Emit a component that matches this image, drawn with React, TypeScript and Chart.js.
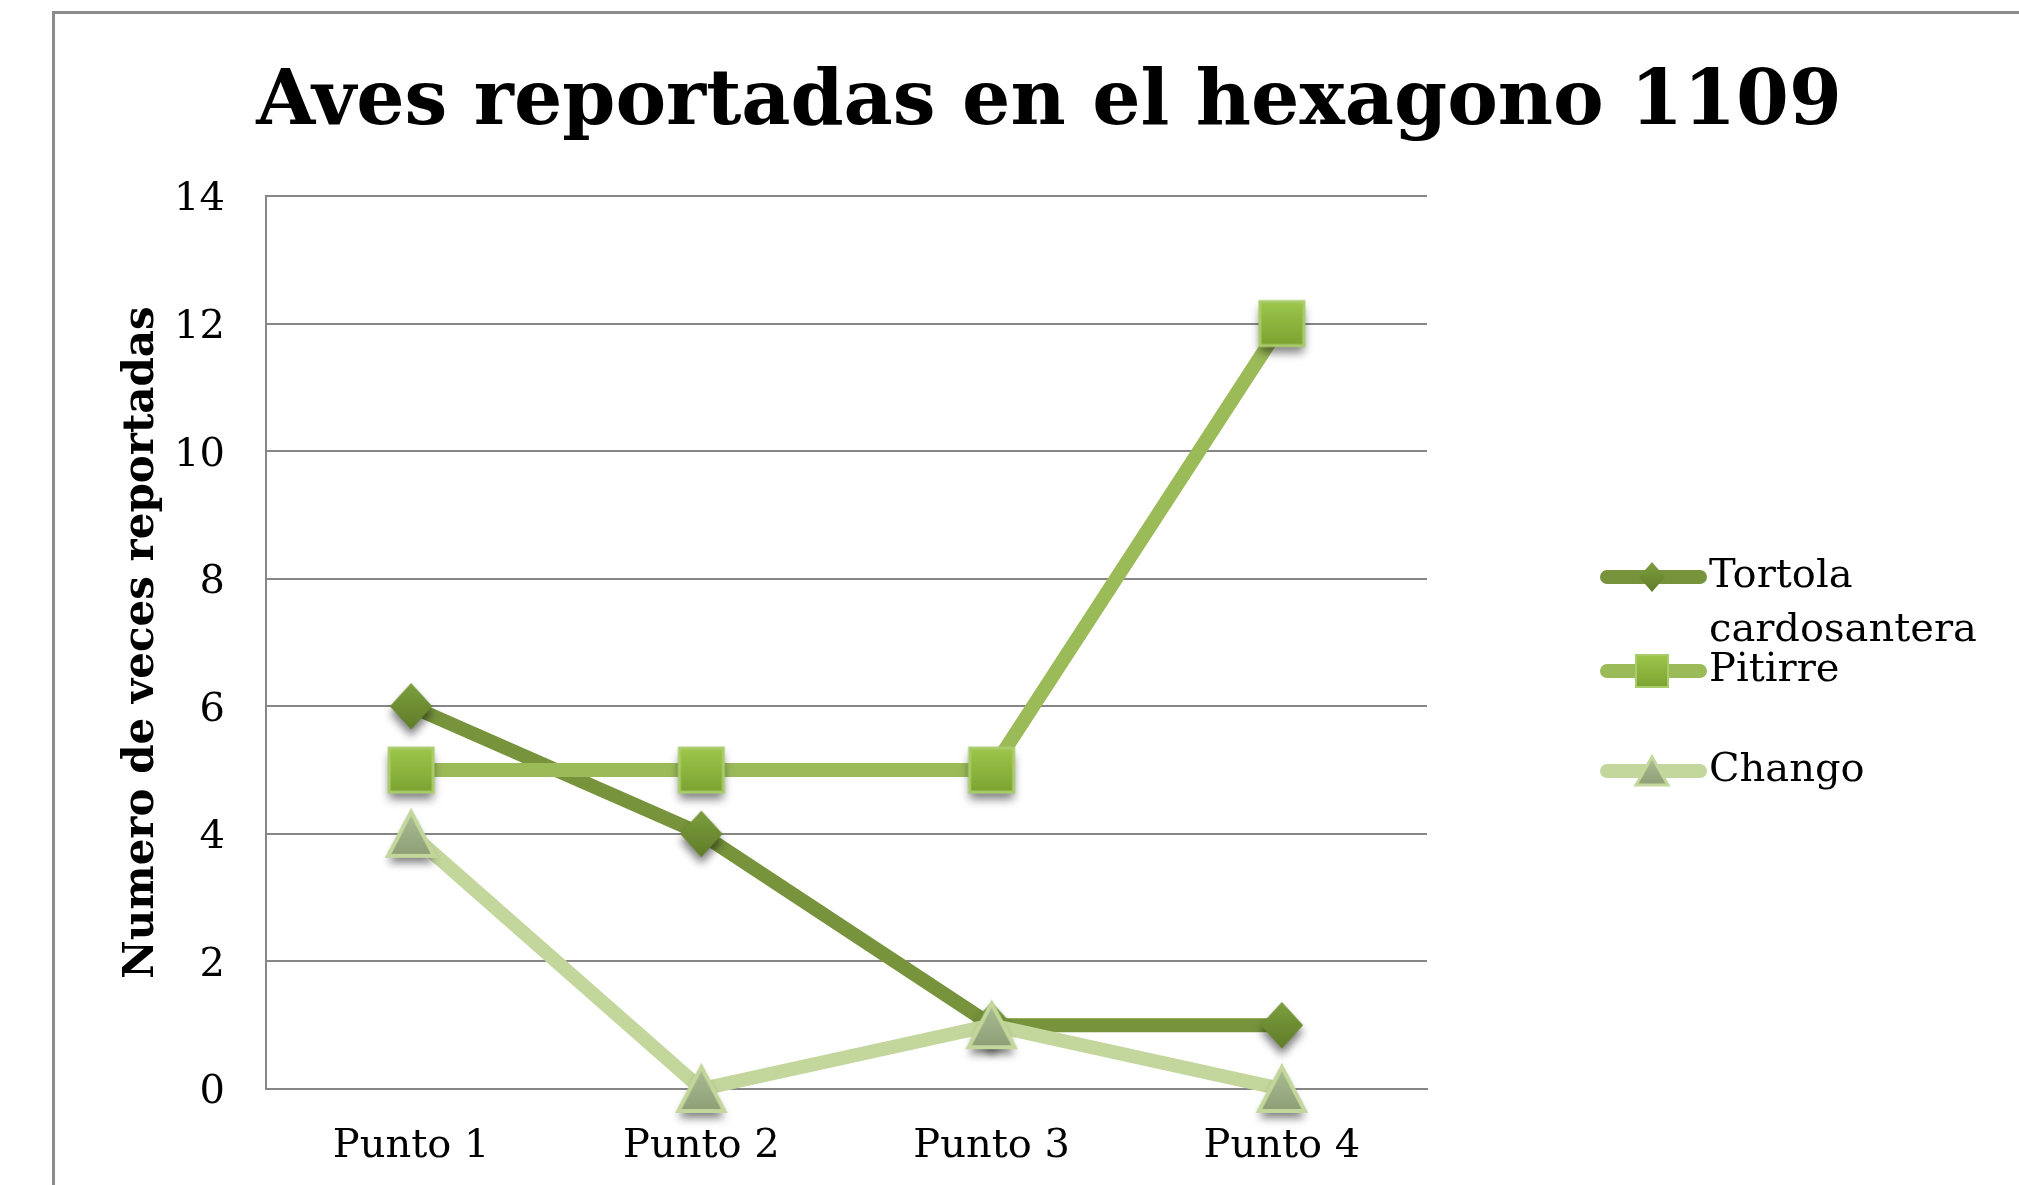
import React, { useEffect, useRef } from 'react';
import { Chart, registerables } from 'chart.js';

Chart.register(...registerables);

// ---- data ----
const categories = ['Punto 1', 'Punto 2', 'Punto 3', 'Punto 4'];
const tortola = [6, 4, 1, 1];
const pitirre = [5, 5, 5, 12];
const chango = [4, 0, 1, 0];
const yMin = 0;
const yMax = 14;
const yStep = 2;
const chartTitle = 'Aves reportadas en el hexagono 1109';
const yAxisTitle = 'Numero de veces reportadas';
const legendTexts = [['Tortola', 'cardosantera'], ['Pitirre'], ['Chango']];

// ---- styles ----
const FONT = "'DejaVu Serif', Georgia, serif";
const W = 2019;
const H = 1185;
const GRID = '#868686';

type Kind = 'diamond' | 'square' | 'triangle';

function makeMarker(kind: Kind, w: number, h: number, top: string, bottom: string, stroke: string, strokeW: number, shadow: boolean) {
  const pad = 18;
  const c = document.createElement('canvas');
  c.width = Math.ceil(w + pad * 2);
  c.height = Math.ceil(h + pad * 2);
  const g = c.getContext('2d')!;
  const cx = c.width / 2;
  const cy = c.height / 2;
  const path = () => {
    g.beginPath();
    if (kind === 'diamond') {
      g.moveTo(cx, cy - h / 2);
      g.lineTo(cx + w / 2, cy);
      g.lineTo(cx, cy + h / 2);
      g.lineTo(cx - w / 2, cy);
    } else if (kind === 'square') {
      g.rect(cx - w / 2, cy - h / 2, w, h);
    } else {
      g.moveTo(cx, cy - h / 2);
      g.lineTo(cx + w / 2, cy + h / 2);
      g.lineTo(cx - w / 2, cy + h / 2);
    }
    g.closePath();
  };
  if (shadow) {
    g.save();
    g.shadowColor = 'rgba(0,0,0,0.5)';
    g.shadowBlur = 9;
    g.shadowOffsetY = 7;
    path();
    g.fillStyle = bottom;
    g.fill();
    g.restore();
  }
  const grad = g.createLinearGradient(0, cy - h / 2, 0, cy + h / 2);
  grad.addColorStop(0, top);
  grad.addColorStop(1, bottom);
  path();
  g.fillStyle = grad;
  g.fill();
  if (strokeW > 0) {
    g.lineWidth = strokeW;
    g.strokeStyle = stroke;
    g.lineJoin = 'miter';
    g.stroke();
  }
  return c;
}

const COLORS = {
  tortola: '#77933C',
  pitirre: '#9BBB59',
  chango: '#C3D69B',
};

export default function App() {
  const ref = useRef<HTMLCanvasElement | null>(null);

  useEffect(() => {
    const canvas = ref.current;
    if (!canvas) return;

    const mDiamond = makeMarker('diamond', 42, 46, '#7d9e3e', '#5f7d28', '#7d9e3e', 0, true);
    const mSquare = makeMarker('square', 44, 44, '#9dc64a', '#7ca332', '#a8cc6a', 3, true);
    const mTriangle = makeMarker('triangle', 46, 44, '#aabd93', '#8e9f76', '#c3d69b', 4, true);

    const lDiamond = makeMarker('diamond', 26, 30, '#7d9e3e', '#5f7d28', '#7d9e3e', 0, false);
    const lSquare = makeMarker('square', 32, 32, '#9dc64a', '#7ca332', '#a8cc6a', 2, false);
    const lTriangle = makeMarker('triangle', 32, 28, '#aabd93', '#8e9f76', '#c3d69b', 3, false);

    const legendItems = [
      { color: COLORS.tortola, img: lDiamond, y: 577, text: legendTexts[0] },
      { color: COLORS.pitirre, img: lSquare, y: 671, text: legendTexts[1] },
      { color: COLORS.chango, img: lTriangle, y: 771, text: legendTexts[2] },
    ];

    const decor = {
      id: 'decor',
      afterDraw(chart: any) {
        const ctx = chart.ctx as CanvasRenderingContext2D;
        ctx.save();
        // title
        ctx.fillStyle = '#000';
        ctx.font = `bold 76px ${FONT}`;
        ctx.textAlign = 'center';
        ctx.textBaseline = 'alphabetic';
        ctx.fillText(chartTitle, 1049, 124);
        // legend
        for (const it of legendItems) {
          ctx.strokeStyle = it.color;
          ctx.lineWidth = 14;
          ctx.lineCap = 'round';
          ctx.beginPath();
          ctx.moveTo(1607, it.y);
          ctx.lineTo(1700, it.y);
          ctx.stroke();
          ctx.drawImage(it.img, 1652 - it.img.width / 2, it.y - it.img.height / 2);
          ctx.fillStyle = '#000';
          ctx.font = `40px ${FONT}`;
          ctx.textAlign = 'left';
          ctx.textBaseline = 'middle';
          it.text.forEach((t, i) => ctx.fillText(t, 1709, it.y + i * 54));
        }
        ctx.restore();
      },
    };

    const ds = (label: string, data: number[], color: string, img: HTMLCanvasElement, order: number) => ({
      label,
      data,
      borderColor: color,
      backgroundColor: color,
      borderWidth: 14,
      borderCapStyle: 'round' as const,
      borderJoinStyle: 'round' as const,
      pointStyle: img,
      pointRadius: 22,
      tension: 0,
      clip: false as const,
      order,
    });

    const chart = new Chart(canvas, {
      type: 'line',
      data: {
        labels: categories,
        datasets: [
          ds('Tortola cardosantera', tortola, COLORS.tortola, mDiamond, 3),
          ds('Pitirre', pitirre, COLORS.pitirre, mSquare, 2),
          ds('Chango', chango, COLORS.chango, mTriangle, 1),
        ],
      },
      options: {
        responsive: false,
        maintainAspectRatio: false,
        animation: false,
        layout: { padding: { left: 0, top: 196, right: 592, bottom: 0 } },
        plugins: {
          legend: { display: false },
          title: { display: false },
          tooltip: { enabled: false },
        },
        scales: {
          x: {
            offset: true,
            grid: { display: false, drawTicks: false },
            border: { display: true, color: GRID, width: 2 },
            ticks: { color: '#000', font: { family: FONT, size: 40 }, padding: 34, maxRotation: 0 },
            afterFit: (s: any) => { s.height = 96; },
          },
          y: {
            min: yMin,
            max: yMax,
            ticks: { stepSize: yStep, color: '#000', font: { family: FONT, size: 40 }, padding: 41, labelOffset: 4 },
            grid: { color: GRID, lineWidth: 2, drawTicks: false },
            border: { display: true, color: GRID, width: 2 },
            title: {
              display: true,
              text: yAxisTitle,
              color: '#000',
              font: { family: FONT, size: 42, weight: 'bold' },
              padding: { top: 117, bottom: 0 },
            },
            afterFit: (s: any) => { s.width = 266; },
          },
        },
      },
      plugins: [decor],
    });
    return () => chart.destroy();
  }, []);

  return (
    <div style={{ position: 'fixed', left: 0, top: 0, width: W, height: H, overflow: 'hidden', background: '#fff' }}>
      <div
        style={{
          position: 'absolute',
          left: 52,
          top: 11,
          width: 2400,
          height: 1600,
          border: '3px solid #8c8c8c',
          boxSizing: 'border-box',
        }}
      />
      <canvas ref={ref} width={W} height={H} style={{ position: 'absolute', left: 0, top: 0, width: W, height: H }} />
    </div>
  );
}
